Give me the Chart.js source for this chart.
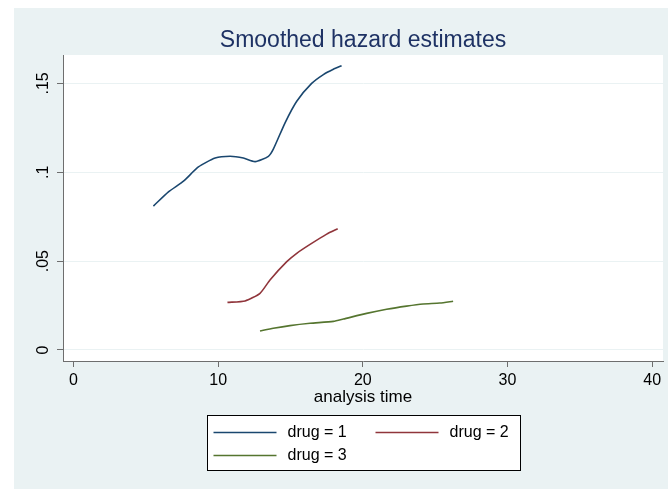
<!DOCTYPE html>
<html>
<head>
<meta charset="utf-8">
<script src="https://cdn.jsdelivr.net/npm/chart.js@4.4.1/dist/chart.umd.min.js"></script>
<style>
    html, body { margin: 0; padding: 0; background: #fff; }
</style>
</head>
<body>
<canvas id="hazardChart" width="668" height="489"></canvas>
<script>
// Số liệu (thời gian phân tích, hazard đã làm trơn)
const drug1Time = [5.52, 6.56, 7.60, 8.63, 9.79, 10.82, 11.74, 12.55, 13.47, 13.81, 14.63, 15.43, 16.46, 17.27, 17.96, 18.53];
const drug1Hazard = [0.081, 0.089, 0.095, 0.103, 0.108, 0.109, 0.108, 0.106, 0.109, 0.113, 0.128, 0.140, 0.150, 0.155, 0.158, 0.160];

const drug2Time = [10.64, 11.86, 12.89, 13.58, 14.74, 15.43, 16.35, 17.50, 18.26];
const drug2Hazard = [0.0268, 0.0276, 0.0319, 0.0394, 0.0497, 0.0544, 0.0594, 0.0652, 0.0682];

const drug3Time = [12.89, 13.81, 14.96, 16.35, 17.96, 18.65, 20.26, 21.64, 23.02, 24.17, 25.32, 26.24];
const drug3Hazard = [0.0107, 0.0122, 0.0137, 0.0150, 0.0161, 0.0174, 0.0206, 0.0229, 0.0247, 0.0259, 0.0264, 0.0274];

const seriesLabels = ['drug = 1', 'drug = 2', 'drug = 3'];
const xTicks = [0, 10, 20, 30, 40];
const yTicks = [0, 0.05, 0.1, 0.15];
const yTickLabels = ['0', '.05', '.1', '.15'];

const chartTitle = 'Smoothed hazard estimates';
const xTitle = 'analysis time';

const colors = ['#1a476f', '#90353b', '#55752f'];
const FONT = '"Liberation Sans", Arial, sans-serif';

function toPoints(xs, ys) {
    return xs.map((x, i) => ({ x: x, y: ys[i] }));
}

// Vẽ nền, tiêu đề và chú giải kiểu Stata
const stataFrame = {
    id: 'stataFrame',
    beforeDraw(chart) {
        const { ctx, chartArea: a, width, height } = chart;
        ctx.save();
        ctx.fillStyle = '#ffffff';
        ctx.fillRect(0, 0, width, height);
        ctx.fillStyle = '#eaf2f3';
        ctx.fillRect(14, 8, width - 14, height - 8);
        ctx.fillStyle = '#ffffff';
        ctx.fillRect(a.left, a.top, a.right - a.left, a.bottom - a.top);
        ctx.restore();
    },
    afterDraw(chart) {
        const { ctx, chartArea: a } = chart;
        const cx = (a.left + a.right) / 2;
        ctx.save();
        // tiêu đề
        ctx.fillStyle = '#1e3264';
        ctx.font = '23px ' + FONT;
        ctx.textAlign = 'center';
        ctx.textBaseline = 'middle';
        ctx.fillText(chartTitle, cx, 41);

        // chú giải
        const boxW = 313, boxH = 55;
        const left = Math.round(cx - boxW / 2) + 0.5;
        const top = 415.5;
        ctx.fillStyle = '#ffffff';
        ctx.fillRect(left, top, boxW, boxH);
        ctx.strokeStyle = '#000000';
        ctx.lineWidth = 1;
        ctx.strokeRect(left, top, boxW, boxH);

        ctx.font = '16px ' + FONT;
        ctx.textAlign = 'left';
        chart.data.datasets.forEach((ds, i) => {
            const col = i % 2, row = Math.floor(i / 2);
            const lx = left + 6 + col * 162;
            const ly = top + 17 + row * 23;
            ctx.strokeStyle = ds.borderColor;
            ctx.lineWidth = 1.5;
            ctx.beginPath();
            ctx.moveTo(lx, ly);
            ctx.lineTo(lx + 63, ly);
            ctx.stroke();
            ctx.fillStyle = '#000000';
            ctx.fillText(ds.label, lx + 74, ly);
        });
        ctx.restore();
    }
};

const datasets = [
    toPoints(drug1Time, drug1Hazard),
    toPoints(drug2Time, drug2Hazard),
    toPoints(drug3Time, drug3Hazard)
].map((pts, i) => ({
    label: seriesLabels[i],
    data: pts,
    borderColor: colors[i],
    borderWidth: 1.6,
    pointRadius: 0,
    fill: false,
    tension: 0.2
}));

new Chart(document.getElementById('hazardChart'), {
    type: 'line',
    data: { datasets: datasets },
    options: {
        responsive: false,
        animation: false,
        devicePixelRatio: 1,
        layout: { padding: { left: 14, right: 5, top: 55, bottom: 80 } },
        plugins: {
            legend: { display: false },
            title: { display: false },
            tooltip: { enabled: false }
        },
        scales: {
            x: {
                type: 'linear',
                min: -0.73,
                max: 40.75,
                afterBuildTicks: s => { s.ticks = xTicks.map(v => ({ value: v })); },
                afterFit: s => { s.height = 48; },
                grid: { drawOnChartArea: false, tickLength: 6, tickColor: '#6e6e6e' },
                border: { color: '#6e6e6e', width: 1 },
                ticks: {
                    color: '#000000',
                    font: { family: FONT, size: 16 },
                    padding: 4,
                    maxRotation: 0,
                    callback: v => String(v)
                },
                title: {
                    display: true,
                    text: xTitle,
                    color: '#000000',
                    font: { family: FONT, size: 17 },
                    padding: { top: 0, bottom: 1 }
                }
            },
            y: {
                type: 'linear',
                min: -0.0062,
                max: 0.166,
                afterBuildTicks: s => { s.ticks = yTicks.map(v => ({ value: v })); },
                afterFit: s => { s.width = 49; },
                grid: { color: '#eaf2f3', tickLength: 6, tickColor: '#6e6e6e', lineWidth: 1 },
                border: { color: '#6e6e6e', width: 1 },
                ticks: {
                    color: '#000000',
                    font: { family: FONT, size: 16 },
                    padding: 2,
                    minRotation: 90,
                    maxRotation: 90,
                    crossAlign: 'center',
                    callback: v => {
                        const k = yTicks.indexOf(v);
                        return k >= 0 ? yTickLabels[k] : '';
                    }
                }
            }
        }
    },
    plugins: [stataFrame]
});
</script>
</body>
</html>
